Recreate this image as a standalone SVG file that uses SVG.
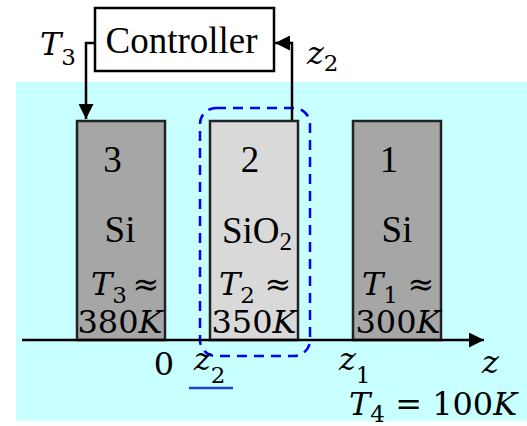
<svg xmlns="http://www.w3.org/2000/svg" width="527" height="426" viewBox="0 0 527 426">
<style>
.tnr{font-family:"Liberation Serif","Times New Roman",serif;font-size:37px;fill:#000}
.m{font-family:"DejaVu Serif",serif;font-size:32px;fill:#000}
.s{font-size:23px}
.i{font-style:italic}
.blk{stroke:#222;stroke-width:2.5}
.conn{fill:none;stroke:#000;stroke-width:2.5}
</style>
<defs>
<marker id="ah" viewBox="0 0 10 10" refX="10" refY="5" markerWidth="6" markerHeight="6" orient="auto" markerUnits="strokeWidth">
<path d="M0,0 L10,5 L0,10 Z" fill="#000"/>
</marker>
</defs>
<rect x="16" y="82" width="511" height="339" fill="#c8ffff"/>

<g id="controller">
<rect x="95" y="8" width="179" height="63" fill="#fff" stroke="#000" stroke-width="2.5"/>
<text class="tnr" x="181.5" y="53" text-anchor="middle">Controller</text>
</g>

<g id="block3">
<rect class="blk" x="77" y="121" width="88" height="219" fill="#a6a6a6"/>
<text class="tnr" x="112.5" y="172" text-anchor="middle">3</text>
<text class="tnr" x="120" y="242" text-anchor="middle">Si</text>
<text class="m" x="91" y="295"><tspan class="i">T</tspan><tspan class="s" dy="8">3</tspan></text>
<text class="m" x="146" y="295" text-anchor="middle">≈</text>
<text class="m" x="120" y="333" text-anchor="middle">380<tspan class="i">K</tspan></text>
</g>

<g id="block2">
<rect class="blk" x="210" y="121" width="88" height="219" fill="#d9d9d9"/>
<text class="tnr" x="250" y="172" text-anchor="middle">2</text>
<text class="tnr" x="222" y="243">SiO<tspan font-size="25" dy="7">2</tspan></text>
<text class="m" x="219" y="295"><tspan class="i">T</tspan><tspan class="s" dy="8">2</tspan></text>
<text class="m" x="278" y="295" text-anchor="middle">≈</text>
<text class="m" x="254" y="333" text-anchor="middle">350<tspan class="i">K</tspan></text>
</g>

<g id="block1">
<rect class="blk" x="353" y="121" width="88" height="219" fill="#a6a6a6"/>
<text class="tnr" x="389" y="172" text-anchor="middle">1</text>
<text class="tnr" x="397" y="242" text-anchor="middle">Si</text>
<text class="m" x="362" y="295"><tspan class="i">T</tspan><tspan class="s" dy="8">1</tspan></text>
<text class="m" x="421" y="295" text-anchor="middle">≈</text>
<text class="m" x="398" y="333" text-anchor="middle">300<tspan class="i">K</tspan></text>
</g>

<g id="selection">
<rect x="200" y="108" width="110" height="248" rx="16" ry="16" fill="none" stroke="#0000ff" stroke-width="2.5" stroke-dasharray="10,7"/>
</g>

<g id="connectors">
<polyline class="conn" points="95,43 86,43 86,119" marker-end="url(#ah)"/>
<polyline class="conn" points="292,120 292,43 275,43" marker-end="url(#ah)"/>
<line class="conn" x1="22" y1="340" x2="484" y2="340" marker-end="url(#ah)"/>
</g>

<g id="labels">
<text class="m" x="40" y="55"><tspan class="i">T</tspan><tspan class="s" dy="10">3</tspan></text>
<text class="m" x="307" y="64"><tspan class="i">z</tspan><tspan class="s" dy="7">2</tspan></text>
<text class="m" x="164" y="375" text-anchor="middle">0</text>
<text class="m" x="194" y="370"><tspan class="i">z</tspan><tspan class="s" dy="13">2</tspan></text>
<line x1="189" y1="388" x2="233" y2="388" stroke="#1f3fd0" stroke-width="2.5"/>
<text class="m" x="339" y="370"><tspan class="i">z</tspan><tspan class="s" dy="13">1</tspan></text>
<text class="m i" x="482" y="373">z</text>
<text class="m" x="349" y="415"><tspan class="i">T</tspan><tspan class="s" dy="7">4</tspan><tspan dy="-7"> = 100</tspan><tspan class="i">K</tspan></text>
</g>
</svg>
